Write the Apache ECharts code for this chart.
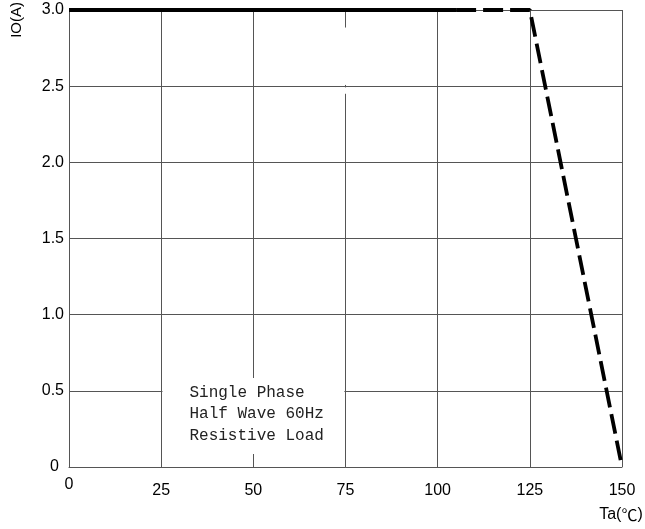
<!DOCTYPE html>
<html>
<head>
<meta charset="utf-8">
<script src="https://cdn.jsdelivr.net/npm/echarts@6/dist/echarts.min.js"></script>
<style>html,body{margin:0;padding:0;background:#fff;}#c{width:645px;height:529px;}</style>
</head>
<body>
<div id="c"></div>
<script>
// Data
var xTicks = [0, 25, 50, 75, 100, 125, 150];
var yTicks = [0, 0.5, 1.0, 1.5, 2.0, 2.5, 3.0];
var solidTa = [0, 105];
var solidIo = [3.0, 3.0];
var dashedTa = [105, 125, 150];
var dashedIo = [3.0, 3.0, 0];
var noteLines = ['Single Phase', 'Half Wave 60Hz', 'Resistive Load'];
var xNameParts = ['Ta(', '℃', ')'];
var yName = 'IO(A)';

function pairs(xs, ys) { return xs.map(function (x, i) { return [x, ys[i]]; }); }

var chart = echarts.init(document.getElementById('c'), null, {renderer: 'canvas'});
var gridColor = '#555';
var font = '"Liberation Sans", Arial, sans-serif';
var cjk = '"Noto Sans CJK SC", "Noto Sans CJK JP", sans-serif';
chart.setOption({
  animation: false,
  backgroundColor: '#fff',
  grid: {left: 69, right: 23, top: 10, bottom: 62, containLabel: false, outerBoundsMode: 'none'},
  xAxis: {
    type: 'value', min: 0, max: 150, interval: 25,
    name: xNameParts[0] + '{c|' + xNameParts[1] + '}' + xNameParts[2], nameLocation: 'end', nameGap: -1,
    nameTextStyle: {color: '#000', fontSize: 16, fontFamily: font, align: 'center', verticalAlign: 'top', padding: [40, 0, 0, 0],
      rich: {c: {fontSize: 16, fontFamily: cjk, color: '#000'}}},
    axisLine: {show: true, lineStyle: {color: gridColor, width: 1}},
    axisTick: {show: false},
    splitLine: {show: true, lineStyle: {color: gridColor, width: 1}},
    axisLabel: {
      color: '#000', fontSize: 16, fontFamily: font, margin: 10,
      formatter: function (v) { return v === 0 ? '0' : '{a|' + v + '}'; },
      rich: {a: {padding: [6, 0, 0, 0], fontSize: 16, fontFamily: font, color: '#000'}}
    }
  },
  yAxis: {
    type: 'value', min: 0, max: 3, interval: 0.5,
    axisLine: {show: true, lineStyle: {color: gridColor, width: 1}},
    axisTick: {show: false},
    splitLine: {show: true, lineStyle: {color: gridColor, width: 1}},
    axisLabel: {
      color: '#000', fontSize: 16, fontFamily: font, margin: 5,
      formatter: function (v) { return v === 0 ? '{z|0}' : v.toFixed(1); },
      rich: {z: {padding: [0, 5, 0, 0], fontSize: 16, fontFamily: font, color: '#000'}}
    }
  },
  graphic: [{
    type: 'text', left: 9, top: 2, rotation: Math.PI / 2,
    style: {text: yName, font: '15px ' + font, fill: '#000'}
  }],
  series: [{
    type: 'line', data: pairs(solidTa, solidIo), symbol: 'none', clip: false,
    lineStyle: {color: '#000', width: 3.8}, z: 3,
    markArea: {
      silent: true,
      itemStyle: {color: '#fff'},
      data: [
        [{xAxis: 25.35, yAxis: 0.585, label: {show: true, position: [27, 4], formatter: noteLines.join('\n'), color: '#222', fontSize: 16, lineHeight: 21.5, fontFamily: '"Liberation Mono", "Courier New", monospace', align: 'left', verticalAlign: 'top'}},
         {xAxis: 74.7, yAxis: 0.085}],
        [{xAxis: 74.6, yAxis: 2.885, label: {show: false}}, {xAxis: 75.4, yAxis: 2.508}],
        [{xAxis: 74.6, yAxis: 2.492, label: {show: false}}, {xAxis: 75.4, yAxis: 2.45}]
      ]
    }
  }, {
    type: 'line', data: pairs(dashedTa, dashedIo), symbol: 'none', clip: false,
    lineStyle: {color: '#000', width: 3.8, type: [20, 7]}, z: 3
  }]
});
</script>
</body>
</html>
